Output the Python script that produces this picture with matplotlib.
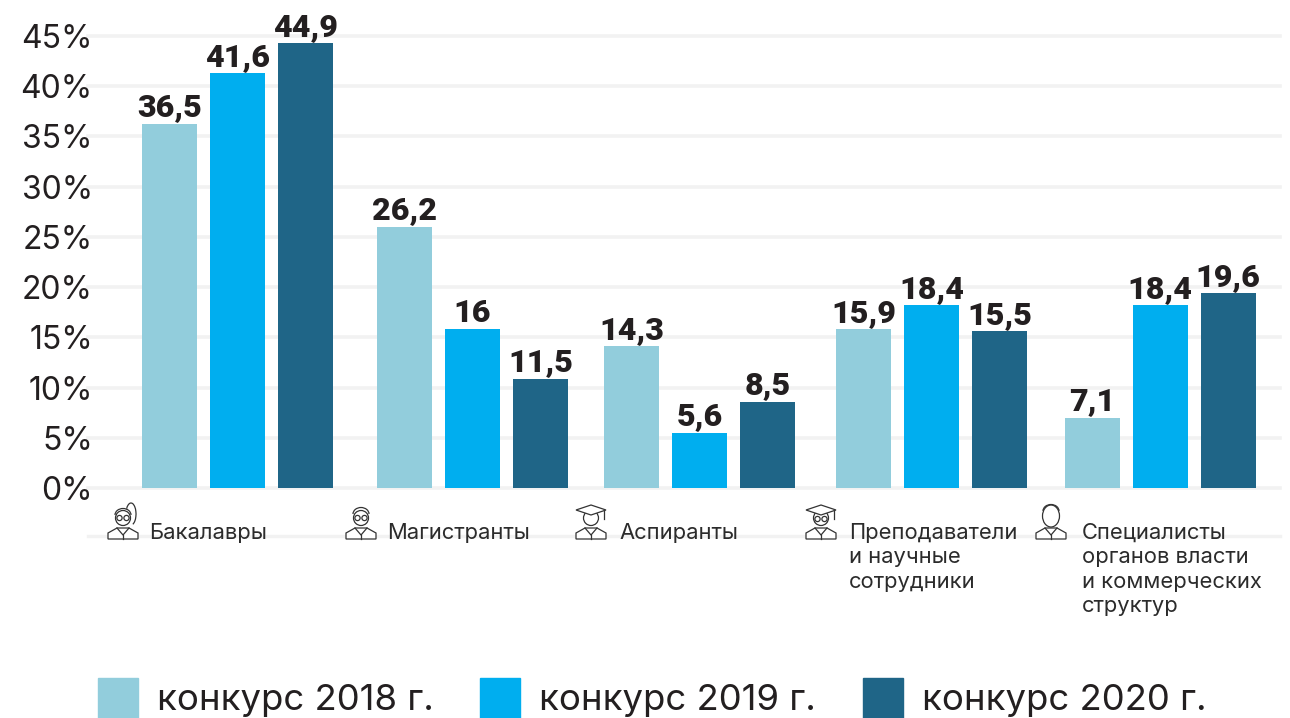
import matplotlib
matplotlib.use('Agg')
import matplotlib.pyplot as plt
from matplotlib.patches import Circle, Arc, Polygon, Patch, Ellipse

plt.rcParams['font.family'] = ['Inter', 'DejaVu Sans']

years = ['конкурс 2018 г.', 'конкурс 2019 г.', 'конкурс 2020 г.']
colors = ['#92cddc', '#00aeef', '#1f6587']
categories = ['Бакалавры', 'Магистранты', 'Аспиранты',
              'Преподаватели\nи научные\nсотрудники',
              'Специалисты\nорганов власти\nи коммерческих\nструктур']

# numbers printed above the bars
labels_2018 = ['36,5', '26,2', '14,3', '15,9', '7,1']
labels_2019 = ['41,6', '16', '5,6', '18,4', '18,4']
labels_2020 = ['44,9', '11,5', '8,5', '15,5', '19,6']

# heights as drawn against the axis, they sit a bit off the printed numbers
values_2018 = [36.25, 26.0, 14.1, 15.8, 7.0]
values_2019 = [41.3, 15.8, 5.5, 18.2, 18.2]
values_2020 = [44.3, 10.9, 8.6, 15.6, 19.4]

yticks = [0, 5, 10, 15, 20, 25, 30, 35, 40, 45]

# groups are not evenly spaced in the original
group_x = [237.5, 472.5, 699.5, 931.5, 1160]
bar_step = 68
bar_w = 55

W, H = 1290, 718
fig = plt.figure(figsize=(W / 100, H / 100), dpi=100)

# main axes, x runs in figure pixels
ax = fig.add_axes([88 / W, 1 - 488 / H, (1280 - 88) / W, (488 - 36) / H])
ax.set_xlim(88, 1280)
ax.set_ylim(0, 45)
ax.set_xticks([])
ax.set_yticks(yticks)
ax.set_yticklabels([f'{t}%' for t in yticks], fontsize=23, color='#231f20')
ax.tick_params(axis='y', length=0, pad=-3.5)
for s in ax.spines.values():
    s.set_visible(False)
ax.grid(axis='y', color='#f2f2f2', lw=2.6, clip_on=False)
ax.set_axisbelow(True)

series = [(values_2018, labels_2018), (values_2019, labels_2019), (values_2020, labels_2020)]
for i, (vals, labs) in enumerate(series):
    xs = [g + (i - 1) * bar_step for g in group_x]
    bars = ax.bar(xs, vals, width=bar_w, color=colors[i], zorder=3)
    for b, lab in zip(bars, labs):
        ax.annotate(lab, (b.get_x() + bar_w / 2, b.get_height()), xytext=(0, 1),
                    textcoords='offset points', ha='center', va='bottom',
                    fontsize=23.2, fontweight='black', family=['Roboto', 'DejaVu Sans'],
                    color='#231f20', zorder=4, annotation_clip=False)

# overlay in pixel coordinates for the category row
ov = fig.add_axes([0, 0, 1, 1])
ov.set_xlim(0, W)
ov.set_ylim(H, 0)
ov.axis('off')
ov.patch.set_alpha(0)
ov.plot([88, 1280], [536, 536], color='#f2f2f2', lw=2.4, zorder=1)

INK = '#333333'
LW = 0.9


def person(cx, base=539, head_y=518, head_r=7.5):
    ov.add_patch(Circle((cx, head_y), head_r, fc='white', ec=INK, lw=LW, zorder=3))
    ov.add_patch(Polygon([(cx - 15, base), (cx - 15, base - 6), (cx - 6, base - 11),
                          (cx + 6, base - 11), (cx + 15, base - 6), (cx + 15, base)],
                         closed=True, fc='white', ec=INK, lw=LW, zorder=3))
    ov.plot([cx - 6, cx, cx + 6], [base - 11, base - 4, base - 11], color=INK, lw=LW, zorder=4)
    ov.plot([cx, cx], [base - 4, base], color=INK, lw=LW, zorder=4)


def glasses(cx, y=518):
    for dx in (-3.5, 3.5):
        ov.add_patch(Circle((cx + dx, y), 2.6, fc='none', ec=INK, lw=LW, zorder=5))


def cap(cx, y=510):
    ov.add_patch(Polygon([(cx - 15, y), (cx, y - 5), (cx + 15, y), (cx, y + 5)],
                         closed=True, fc='white', ec=INK, lw=LW, zorder=5))
    ov.plot([cx + 13, cx + 13], [y, y + 9], color=INK, lw=LW, zorder=5)


def hair(cx, y=511):
    ov.add_patch(Arc((cx, y + 4), 16, 13, theta1=180, theta2=360, ec=INK, lw=LW, zorder=5))


# icon 1, ponytail
person(123)
glasses(123)
hair(123)
ov.add_patch(Arc((131, 514), 10, 22, theta1=230, theta2=80, ec=INK, lw=LW, zorder=2))
# icon 2, short hair and glasses
person(361)
glasses(361)
hair(361, 510)
# icon 3, cap
person(591)
cap(591)
# icon 4, cap and glasses
person(821)
cap(821)
glasses(821, 519)
# icon 5, suit, longer face
person(1051)
ov.add_patch(Ellipse((1051, 516), 17, 22, fc='white', ec=INK, lw=LW, zorder=4))
hair(1051, 507)

text_x = [149, 387, 619, 849, 1082]
for x, c in zip(text_x, categories):
    ov.text(x, 523, c, fontsize=15.8, color='#2b2b2b', ha='left', va='top',
            linespacing=1.27, zorder=6)

handles = [Patch(color=c) for c in colors]
fig.legend(handles, years, loc='lower left', bbox_to_anchor=(98 / W, 0), ncol=3, frameon=False,
           fontsize=26.3, handlelength=1.09, handleheight=1.31, handletextpad=0.52,
           columnspacing=1.28, borderpad=0, borderaxespad=0, labelcolor='#231f20')

fig.savefig('out.png', dpi=100)
